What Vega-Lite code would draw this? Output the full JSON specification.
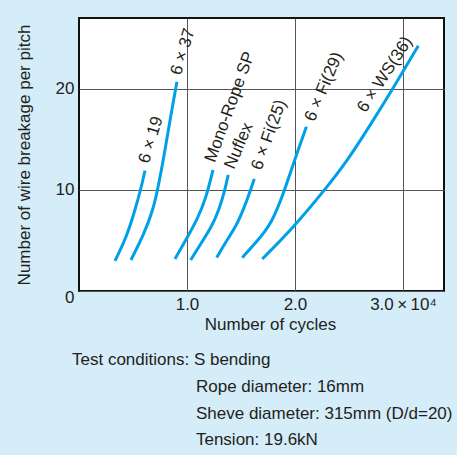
{
  "$schema": "https://vega.github.io/schema/vega-lite/v6.json",
  "autosize": {"type": "none"},
  "padding": {"left": 79, "top": 18, "right": 13, "bottom": 164},
  "width": 365,
  "height": 273,
  "background": "#d5ecf9",
  "config": {
    "font": "Liberation Sans",
    "view": {"fill": "white", "stroke": "#111111", "strokeWidth": 2},
    "axis": {
      "labelFont": "Liberation Sans",
      "titleFont": "Liberation Sans",
      "labelFontSize": 17,
      "titleFontSize": 17,
      "titleFontWeight": "normal",
      "labelColor": "#231f20",
      "titleColor": "#231f20",
      "domain": false,
      "ticks": false,
      "gridColor": "#555555",
      "gridWidth": 1,
      "gridOpacity": 1
    }
  },
  "datasets": {
    "curves": [
      {"series": "6x19", "x": 0.333, "y": 2.97},
      {"series": "6x19", "x": 0.442, "y": 5.38},
      {"series": "6x19", "x": 0.519, "y": 8.02},
      {"series": "6x19", "x": 0.571, "y": 10.0},
      {"series": "6x19", "x": 0.611, "y": 11.91},
      {"series": "6x37", "x": 0.481, "y": 3.07},
      {"series": "6x37", "x": 0.605, "y": 5.71},
      {"series": "6x37", "x": 0.685, "y": 8.02},
      {"series": "6x37", "x": 0.728, "y": 10.0},
      {"series": "6x37", "x": 0.781, "y": 12.97},
      {"series": "6x37", "x": 0.843, "y": 16.9},
      {"series": "6x37", "x": 0.907, "y": 20.7},
      {"series": "Mono-Rope SP", "x": 0.889, "y": 3.17},
      {"series": "Mono-Rope SP", "x": 0.981, "y": 4.88},
      {"series": "Mono-Rope SP", "x": 1.102, "y": 7.23},
      {"series": "Mono-Rope SP", "x": 1.176, "y": 9.2},
      {"series": "Mono-Rope SP", "x": 1.241, "y": 11.98},
      {"series": "Nuflex", "x": 1.034, "y": 3.07},
      {"series": "Nuflex", "x": 1.12, "y": 4.55},
      {"series": "Nuflex", "x": 1.229, "y": 6.37},
      {"series": "Nuflex", "x": 1.296, "y": 8.0},
      {"series": "Nuflex", "x": 1.352, "y": 10.03},
      {"series": "Nuflex", "x": 1.382, "y": 11.49},
      {"series": "6xFi(25)", "x": 1.275, "y": 3.3},
      {"series": "6xFi(25)", "x": 1.352, "y": 4.75},
      {"series": "6xFi(25)", "x": 1.454, "y": 6.37},
      {"series": "6xFi(25)", "x": 1.528, "y": 8.2},
      {"series": "6xFi(25)", "x": 1.59, "y": 10.03},
      {"series": "6xFi(25)", "x": 1.623, "y": 11.09},
      {"series": "6xFi(29)", "x": 1.512, "y": 3.3},
      {"series": "6xFi(29)", "x": 1.65, "y": 4.95},
      {"series": "6xFi(29)", "x": 1.78, "y": 6.6},
      {"series": "6xFi(29)", "x": 1.9, "y": 9.8},
      {"series": "6xFi(29)", "x": 1.996, "y": 12.97},
      {"series": "6xFi(29)", "x": 2.106, "y": 16.24},
      {"series": "6xWS(36)", "x": 1.697, "y": 3.17},
      {"series": "6xWS(36)", "x": 1.979, "y": 6.21},
      {"series": "6xWS(36)", "x": 2.278, "y": 10.03},
      {"series": "6xWS(36)", "x": 2.491, "y": 12.97},
      {"series": "6xWS(36)", "x": 2.704, "y": 16.53},
      {"series": "6xWS(36)", "x": 2.91, "y": 20.07},
      {"series": "6xWS(36)", "x": 3.142, "y": 24.26}
    ],
    "labels": [
      {"label": "6 × 19", "x": 0.667, "y": 14.95},
      {"label": "6 × 37", "x": 0.963, "y": 23.66},
      {"label": "Mono-Rope SP", "x": 1.398, "y": 18.2},
      {"label": "Nuflex", "x": 1.481, "y": 14.36},
      {"label": "6 × Fi(25)", "x": 1.759, "y": 15.45},
      {"label": "6 × Fi(29)", "x": 2.269, "y": 20.2},
      {"label": "6 × WS(36)", "x": 2.833, "y": 21.4}
    ],
    "notes": [
      {"text": "Test conditions: S bending", "x": -0.065, "y": -7.33},
      {"text": "Rope diameter: 16mm", "x": 1.083, "y": -10.0},
      {"text": "Sheve diameter: 315mm (D/d=20)", "x": 1.083, "y": -12.67},
      {"text": "Tension: 19.6kN", "x": 1.083, "y": -15.25}
    ]
  },
  "encoding": {
    "x": {
      "field": "x",
      "type": "quantitative",
      "scale": {"domain": [0, 3.38], "nice": false, "zero": false},
      "axis": {
        "title": "Number of cycles",
        "values": [1, 2, 3],
        "labelExpr": "datum.value == 3 ? '3.0\u2009×\u200910⁴' : format(datum.value, '.1f')",
        "labelPadding": 5,
        "titlePadding": 4,
        "titleX": 191,
        "grid": true
      }
    },
    "y": {
      "field": "y",
      "type": "quantitative",
      "scale": {"domain": [0, 27], "nice": false, "zero": false},
      "axis": {
        "title": "Number of wire breakage per pitch",
        "values": [0, 10, 20],
        "labelPadding": 5,
        "titlePadding": 22,
        "labelOffset": {"condition": {"test": "datum.value === 0", "value": 6}, "value": 0},
        "grid": true
      }
    }
  },
  "layer": [
    {
      "data": {"name": "curves"},
      "mark": {"type": "line", "color": "#00a0e9", "strokeWidth": 3, "interpolate": "basis", "strokeCap": "butt"},
      "encoding": {"detail": {"field": "series", "type": "nominal"}}
    },
    {
      "data": {"name": "labels"},
      "transform": [{"filter": {"field": "label", "oneOf": ["6 × 19", "6 × 37"]}}],
      "mark": {"type": "text", "angle": -73, "fontSize": 17, "align": "center", "baseline": "middle", "color": "#231f20"},
      "encoding": {"text": {"field": "label"}}
    },
    {
      "data": {"name": "labels"},
      "transform": [{"filter": {"field": "label", "oneOf": ["Mono-Rope SP", "6 × Fi(25)"]}}],
      "mark": {"type": "text", "angle": -70, "fontSize": 17, "align": "center", "baseline": "middle", "color": "#231f20"},
      "encoding": {"text": {"field": "label"}}
    },
    {
      "data": {"name": "labels"},
      "transform": [{"filter": {"field": "label", "oneOf": ["Nuflex", "6 × Fi(29)"]}}],
      "mark": {"type": "text", "angle": -67, "fontSize": 17, "align": "center", "baseline": "middle", "color": "#231f20"},
      "encoding": {"text": {"field": "label"}}
    },
    {
      "data": {"name": "labels"},
      "transform": [{"filter": {"field": "label", "oneOf": ["6 × WS(36)"]}}],
      "mark": {"type": "text", "angle": -57, "fontSize": 17, "align": "center", "baseline": "middle", "color": "#231f20"},
      "encoding": {"text": {"field": "label"}}
    },
    {
      "data": {"name": "notes"},
      "mark": {"type": "text", "fontSize": 17, "align": "left", "baseline": "alphabetic", "color": "#231f20", "clip": false},
      "encoding": {"text": {"field": "text"}}
    }
  ]
}
